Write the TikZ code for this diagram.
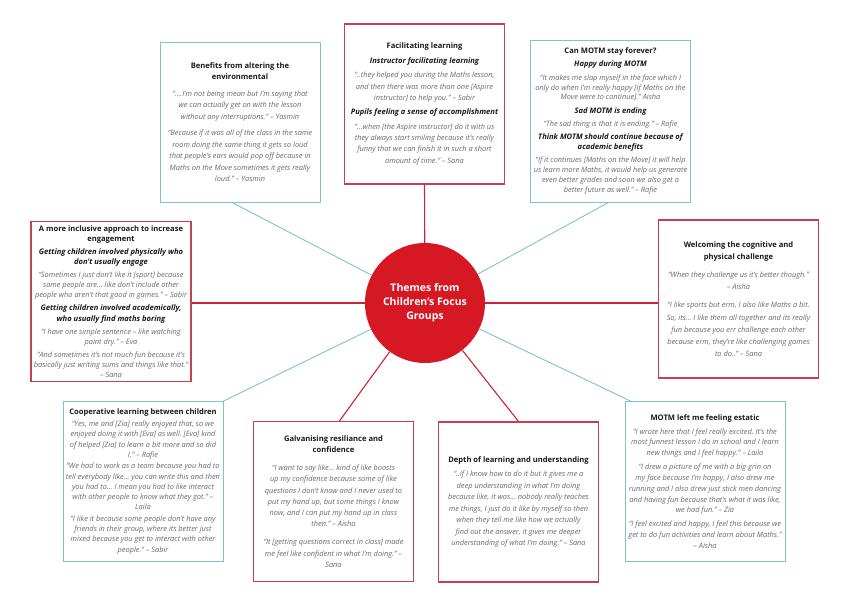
\documentclass[tikz,border=0pt]{standalone}
\usepackage{fontspec}
\setmainfont{Open Sans}
\usetikzlibrary{calc}
\definecolor{tealc}{RGB}{125,197,200}
\definecolor{redc}{RGB}{200,62,82}
\definecolor{redline}{RGB}{205,35,55}
\definecolor{circfill}{RGB}{214,24,36}
\definecolor{qc}{RGB}{105,105,105}
\definecolor{tc}{RGB}{25,25,25}
\frenchspacing
\newcommand\qL{11}
\newcommand\qG{4}
\newcommand\setLG[2]{\renewcommand\qL{#1}\renewcommand\qG{#2}}
\newcommand\bxt[1]{{\fontsize{7.6}{\qL pt}\selectfont\bfseries\color{tc}#1\par}}
\newcommand\bxs[1]{\par\vspace{\qG pt}{\fontsize{7.6}{\qL pt}\selectfont\bfseries\itshape\color{tc}#1\par}}
\newcommand\bxq[1]{\par\vspace{\qG pt}{\fontsize{7.4}{\qL pt}\selectfont\itshape\color{qc}#1\par}}
\tikzset{
  box/.style={draw, rectangle, minimum width=160pt, minimum height=160pt, inner sep=0pt, fill=white},
  tbox/.style={box, draw=tealc, line width=0.9pt},
  rbox/.style={box, draw=redc, line width=1.1pt},
  txt/.style={text width=178pt, inner sep=0pt, align=flush center, font=\frenchspacing},
  tline/.style={draw=tealc, line width=0.9pt},
  rline/.style={draw=redline, line width=1.1pt}
}
\begin{document}
\begin{tikzpicture}[x=1pt,y=-1pt]
\useasboundingbox[fill=white] (0,0) rectangle (850,607);

\node[tbox] (b1) at (240,122) {};
\node[rbox] (b2) at (424.5,104) {};
\node[tbox, minimum height=162pt] (b3) at (610.5,121) {};
\node[rbox] (b4) at (111,301.5) {};
\node[rbox, minimum height=158pt] (b5) at (738.5,299) {};
\node[tbox] (b6) at (143,481.5) {};
\node[rbox] (b7) at (333.5,501.5) {};
\node[rbox] (b8) at (518.5,502) {};
\node[tbox] (b9) at (705,481.5) {};

\node[txt] (t1) at (b1.center) {\setLG{11.5}{5}\bxt{Benefits from altering the\\environmental}%
\bxq{“....I’m not being mean but I’m saying that\\we can actually get on with the lesson\\without any interruptions.” – Yasmin}%
\bxq{“Because if it was all of the class in the same\\room doing the same thing it gets so loud\\that people’s ears would pop off because in\\Maths on the Move sometimes it gets really\\loud.” – Yasmin}};

\node[txt] (t2) at (b2.center) {\setLG{11.3}{3.2}\bxt{Facilitating learning}%
\bxs{Instructor facilitating learning}%
\bxq{“..they helped you during the Maths lesson,\\and then there was more than one [Aspire\\instructor] to help you.” – Sabir}%
\bxs{Pupils feeling a sense of accomplishment}%
\bxq{“...when [the Aspire instructor] do it with us\\they always start smiling because it’s really\\funny that we can finish it in such a short\\amount of time.” – Sana}};

\node[txt] (t3) at (b3.center) {\setLG{9.9}{3.3}\bxt{Can MOTM stay forever?}%
\bxs{Happy during MOTM}%
\bxq{“It makes me slap myself in the face which I\\only do when I’m really happy [if Maths on the\\Move were to continue].” Aisha}%
\bxs{Sad MOTM is ending}%
\bxq{“The sad thing is that it is ending.” – Rafie}%
\bxs{Think MOTM should continue because of\\academic benefits}%
\bxq{“If it continues [Maths on the Move] it will help\\us learn more Maths, it would help us generate\\even better grades and soon we also get a\\better future as well.” – Rafie}};

\node[txt] (t4) at (b4.center) {\setLG{10.1}{3}\bxt{A more inclusive approach to increase\\engagement}%
\bxs{Getting children involved physically who\\don’t usually engage}%
\bxq{“Sometimes I just don’t like it [sport] because\\some people are... like don’t include other\\people who aren’t that good in games.” – Sabir}%
\bxs{Getting children involved academically,\\who usually find maths boring}%
\bxq{“I have one simple sentence – like watching\\paint dry.” – Eva}%
\bxq{“And sometimes it’s not much fun because it’s\\basically just writing sums and things like that.”\\– Sana}};

\node[txt] (t5) at (b5.center) {\setLG{12.2}{6}\bxt{Welcoming the cognitive and\\physical challenge}%
\bxq{“When they challenge us it’s better though.”\\– Aisha}%
\bxq{“I like sports but erm, I also like Maths a bit.\\So, its... I like them all together and its really\\fun because you err challenge each other\\because erm, they’re like challenging games\\to do..” – Sana}};

\node[txt] (t6) at (b6.center) {\setLG{10.2}{1.5}\bxt{Cooperative learning between children}%
\bxq{“Yes, me and [Zia] really enjoyed that, so we\\enjoyed doing it with [Eva] as well. [Eva] kind\\of helped [Zia] to learn a bit more and so did\\I.” – Rafie}%
\bxq{“We had to work as a team because you had to\\tell everybody like... you can write this and then\\you had to... I mean you had to like interact\\with other people to know what they got.” –\\Laila}%
\bxq{“I like it because some people don’t have any\\friends in their group, where its better just\\mixed because you get to interact with other\\people.” – Sabir}};

\node[txt] (t7) at (b7.center) {\setLG{11.2}{7}\bxt{Galvanising resiliance and\\confidence}%
\bxq{“I want to say like... kind of like boosts\\up my confidence because some of like\\questions I don’t know and I never used to\\put my hand up, but some things I know\\now, and I can put my hand up in class\\then.” – Aisha}%
\bxq{“It [getting questions correct in class] made\\me feel like confident in what I’m doing.” –\\Sana}};

\node[txt] (t8) at (b8.center) {\setLG{11.5}{2.5}\bxt{Depth of learning and understanding}%
\bxq{“..If I know how to do it but it gives me a\\deep understanding in what I’m doing\\because like, it was... nobody really teaches\\me things, I just do it like by myself so then\\when they tell me like how we actually\\find out the answer, it gives me deeper\\understanding of what I’m doing.” – Sana}};

\node[txt] (t9) at (b9.center) {\setLG{10.9}{2.6}\bxt{MOTM left me feeling estatic}%
\bxq{“I wrote here that I feel really excited. It’s the\\most funnest lesson I do in school and I learn\\new things and I feel happy.” – Laila}%
\bxq{“I drew a picture of me with a big grin on\\my face because I’m happy, I also drew me\\running and I also drew just stick men dancing\\and having fun because that’s what it was like,\\we had fun.” – Zia}%
\bxq{“I feel excited and happy, I feel this because we\\get to do fun activities and learn about Maths.”\\– Aisha}};

\node[circle, fill=circfill, minimum size=120pt, inner sep=0pt, text=white, font=\fontsize{10.5}{14}\selectfont\bfseries, align=center] (circ) at (425,303) {Themes from\\Children’s Focus\\Groups};

\coordinate (e1) at ($(b1.south)+(-8,0)$);
\coordinate (e3) at ($(b3.south)+(-2,0)$);
\coordinate (e7) at ($(b7.north)+(6,0)$);
\coordinate (e9) at ($(b9.north west)+(6,0)$);

\draw[tline] (circ) -- (e1);
\draw[rline] (circ) -- (b2.south);
\draw[tline] (circ) -- (e3);
\draw[rline] (circ) -- (circ -| b4.east);
\draw[rline] (circ) -- (circ -| b5.west);
\draw[tline] (circ) -- (b6.north east);
\draw[rline] (circ) -- (e7);
\draw[rline] (circ) -- (b8.north);
\draw[tline] (circ) -- (e9);
\end{tikzpicture}
\end{document}
